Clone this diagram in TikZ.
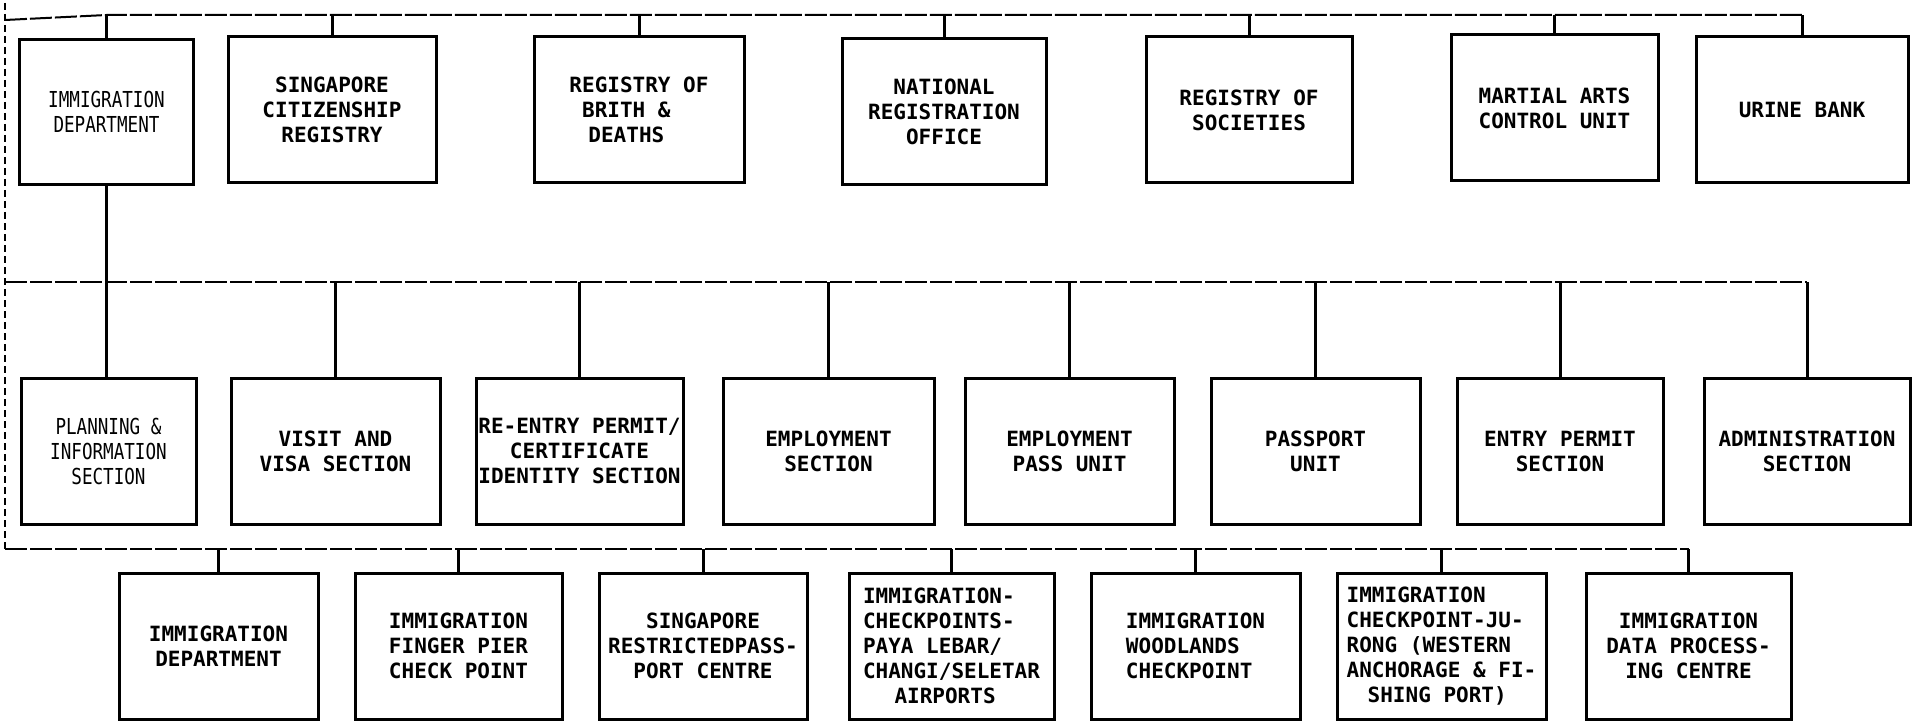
\documentclass[tikz,border=0pt]{standalone}
\usepackage{fontspec}
\newfontfamily\boxfont{DejaVu Sans Mono}
\newfontfamily\narrowfont{DejaVu Sans Mono}[FakeStretch=0.8]
\begin{document}
\begin{tikzpicture}[x=1pt,y=-1pt,
  box/.style={draw, line width=3pt, inner sep=0pt, align=center,
    font={\boxfont\bfseries\fontsize{21}{25}\selectfont}},
  boxl/.style={box, align=left},
  faint/.style={font={\narrowfont\fontsize{22}{25}\selectfont}},
  conn/.style={line width=3pt},
  bus/.style={line width=2pt, dash pattern=on 22pt off 3pt},
  side/.style={line width=1.5pt, dash pattern=on 7pt off 4pt}]
\useasboundingbox (0,0) rectangle (1913,722);
% bus anchor coordinates
\coordinate (top) at (5,3);
\coordinate (tb) at (5,20);
\coordinate (tbr) at (0,15);
\coordinate (mb) at (5,282);
\coordinate (bb) at (5,549);
% Row 1
\node[box, faint, minimum width=174pt, minimum height=145pt] (imm) at (106.5,112) {IMMIGRATION\\DEPARTMENT};
\node[box, minimum width=208pt, minimum height=146pt] (scr) at (332,110) {SINGAPORE\\CITIZENSHIP\\REGISTRY};
\node[box, minimum width=210pt, minimum height=146pt] (rbd) at (639,110) {REGISTRY OF\\BRITH \&\phantom{xx}\\DEATHS\phantom{xx}};
\node[box, minimum width=204pt, minimum height=146pt] (nro) at (944,112) {NATIONAL\\REGISTRATION\\OFFICE};
\node[box, minimum width=206pt, minimum height=146pt] (ros) at (1249,110) {REGISTRY OF\\SOCIETIES};
\node[box, minimum width=207pt, minimum height=146pt] (macu) at (1554.5,108) {MARTIAL ARTS\\CONTROL UNIT};
\node[box, minimum width=212pt, minimum height=146pt] (urine) at (1802,110) {URINE BANK};
% Row 2
\node[box, faint, minimum width=175pt, minimum height=146pt] (plan) at (108.5,451) {PLANNING \&\\INFORMATION\\SECTION};
\node[box, minimum width=209pt, minimum height=146pt] (visit) at (335.5,451) {VISIT AND\\VISA SECTION};
\node[box, minimum width=207pt, minimum height=146pt] (reentry) at (579.5,451) {RE-ENTRY PERMIT/\\CERTIFICATE\\IDENTITY SECTION};
\node[box, minimum width=211pt, minimum height=146pt] (emps) at (828.5,451) {EMPLOYMENT\\SECTION};
\node[box, minimum width=209pt, minimum height=146pt] (empp) at (1069.5,451) {EMPLOYMENT\\PASS UNIT};
\node[box, minimum width=209pt, minimum height=146pt] (pass) at (1315.5,451) {PASSPORT\\UNIT};
\node[box, minimum width=206pt, minimum height=146pt] (entry) at (1560,451) {ENTRY PERMIT\\SECTION};
\node[box, minimum width=206pt, minimum height=146pt] (admin) at (1807,451) {ADMINISTRATION\\SECTION};
% Row 3
\node[box, minimum width=199pt, minimum height=146pt] (imm2) at (218.5,646) {IMMIGRATION\\DEPARTMENT};
\node[box, minimum width=207pt, minimum height=146pt] (finger) at (458.5,646) {IMMIGRATION\\FINGER PIER\\CHECK POINT};
\node[box, minimum width=208pt, minimum height=146pt] (restr) at (703,646) {SINGAPORE\\RESTRICTEDPASS-\\PORT CENTRE};
\node[boxl, minimum width=205pt, minimum height=146pt] (air) at (951.5,646) {IMMIGRATION-\\CHECKPOINTS-\\PAYA LEBAR/\\CHANGI/SELETAR\\\hspace*{1.5em}AIRPORTS};
\node[box, minimum width=209pt, minimum height=146pt] (wood) at (1195.5,646) {IMMIGRATION\\WOODLANDS\phantom{xx}\\CHECKPOINT\phantom{x}};
\node[boxl, minimum width=209pt, minimum height=146pt] (jur) at (1441.5,646) {IMMIGRATION\\CHECKPOINT-JU-\\RONG (WESTERN\\ANCHORAGE \& FI-\\\hspace*{1em}SHING PORT)};
\node[box, minimum width=205pt, minimum height=146pt] (data) at (1688.5,646) {IMMIGRATION\\DATA PROCESS-\\ING CENTRE};
% buses
\draw[side] (top) -- (bb);
\draw[bus] (tb) -- (imm.north |- tbr) -- (tbr -| urine.north);
\draw[bus] (mb) -- (mb -| admin.north);
\draw[bus] (bb) -- (bb -| data.north);
% row 1 connectors
\foreach \n in {imm,scr,rbd,nro,ros,macu,urine}
  \draw[conn] (\n.north) -- (\n.north |- tbr);
% department to sections
\draw[conn] (imm.south) -- (imm.south |- plan.north);
\foreach \n in {visit,reentry,emps,empp,pass,entry,admin}
  \draw[conn] (\n.north) -- (\n.north |- mb);
\foreach \n in {imm2,finger,restr,air,wood,jur,data}
  \draw[conn] (\n.north) -- (\n.north |- bb);
\end{tikzpicture}
\end{document}
